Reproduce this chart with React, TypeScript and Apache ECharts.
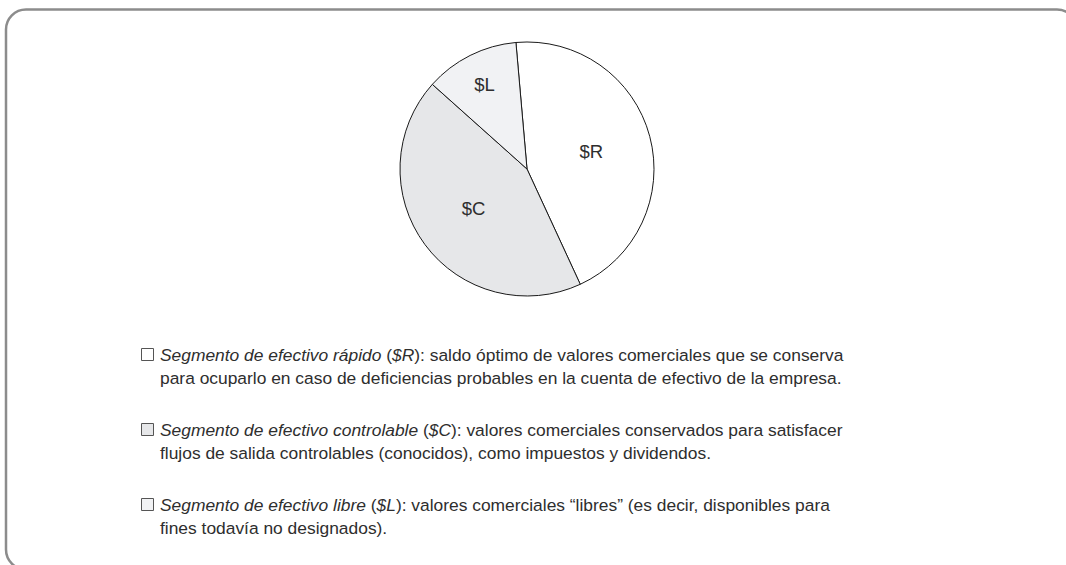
import React, { useEffect, useRef } from "react";
import * as echarts from "echarts";

const categories = ["$R", "$C", "$L"];
const values = [44.5, 43.5, 12];
const sliceColors = ["#ffffff", "#e6e7e9", "#f1f2f4"];
const termNames = [
  "Segmento de efectivo rápido",
  "Segmento de efectivo controlable",
  "Segmento de efectivo libre",
];
const firstLineRest = [
  ": saldo óptimo de valores comerciales que se conserva",
  ": valores comerciales conservados para satisfacer",
  ": valores comerciales “libres” (es decir, disponibles para",
];
const secondLines = [
  "para ocuparlo en caso de deficiencias probables en la cuenta de efectivo de la empresa.",
  "flujos de salida controlables (conocidos), como impuestos y dividendos.",
  "fines todavía no designados).",
];

const FONT = "'Liberation Sans', Arial, sans-serif";
const TEXT_COLOR = "#2e2e2e";
const FS = 17.4;
const LH = 23.5;

export default function App() {
  const ref = useRef<HTMLDivElement>(null);
  useEffect(() => {
    if (!ref.current) return;
    const chart = echarts.init(ref.current, undefined, { renderer: "svg" });
    const cx = 527;
    const cy = 169;
    const R = 127;

    const rich = {
      i: { fontStyle: "italic", fontSize: FS, fontFamily: FONT, fill: TEXT_COLOR, lineHeight: LH },
      n: { fontStyle: "normal", fontSize: FS, fontFamily: FONT, fill: TEXT_COLOR, lineHeight: LH },
    };

    const legendGraphics: any[] = [];
    categories.forEach((cat, i) => {
      const top = 343 + i * 75;
      legendGraphics.push({
        type: "rect",
        shape: { x: 141.5, y: top + 5.5, width: 12, height: 12 },
        style: { fill: sliceColors[i], stroke: "#555", lineWidth: 1 },
      });
      legendGraphics.push({
        type: "text",
        x: 160,
        y: top,
        style: {
          text:
            `{i|${termNames[i]}}{n| (}{i|${cat}}{n|)${firstLineRest[i]}}\n{n|${secondLines[i]}}`,
          rich,
          fontSize: FS,
          fontFamily: FONT,
          fill: TEXT_COLOR,
          lineHeight: LH,
          verticalAlign: "top",
          align: "left",
        },
      });
    });

    chart.setOption({
      animation: false,
      backgroundColor: "#ffffff",
      graphic: [
        {
          type: "rect",
          shape: { x: 6, y: 9.5, width: 1071, height: 560, r: 20 },
          style: { fill: "none", stroke: "#8c8c8c", lineWidth: 2.5 },
          z: -10,
        },
        ...legendGraphics,
      ],
      series: [
        {
          type: "pie",
          center: [cx, cy],
          radius: [0, R],
          startAngle: 95,
          clockwise: true,
          silent: true,
          itemStyle: { borderColor: "#1a1a1a", borderWidth: 1 },
          label: {
            show: true,
            position: "inside",
            formatter: (p: any) => (p.dataIndex === 2 ? "" : p.name),
            fontSize: 18.5,
            fontFamily: FONT,
            color: TEXT_COLOR,
          },
          labelLine: { show: false },
          data: categories.map((c, i) => ({
            name: c,
            value: values[i],
            itemStyle: { color: sliceColors[i] },
          })),
        },
        {
          type: "pie",
          center: [cx, cy],
          radius: [57, R],
          startAngle: 95,
          clockwise: true,
          silent: true,
          itemStyle: { color: "transparent", borderWidth: 0 },
          label: {
            show: true,
            position: "inside",
            formatter: (p: any) => (p.dataIndex === 2 ? p.name : ""),
            fontSize: 18.5,
            fontFamily: FONT,
            color: TEXT_COLOR,
          },
          labelLine: { show: false },
          data: categories.map((c, i) => ({ name: c, value: values[i] })),
        },
      ],
    });
    return () => chart.dispose();
  }, []);
  return (
    <div
      ref={ref}
      style={{ position: "absolute", left: 0, top: 0, width: 1066, height: 565 }}
    />
  );
}
